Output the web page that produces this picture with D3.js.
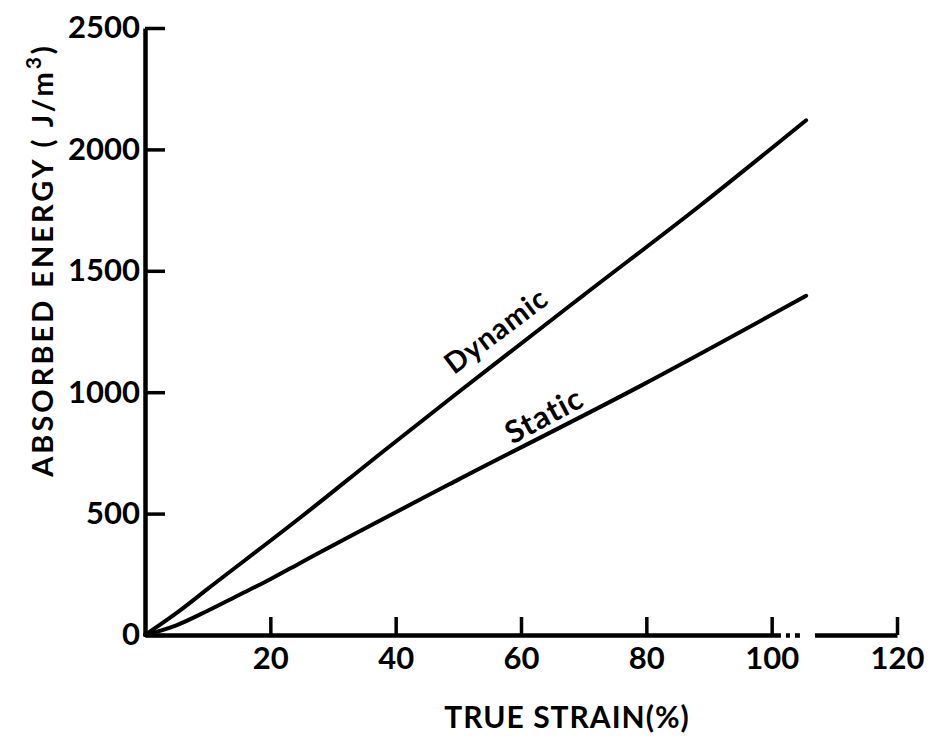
<!DOCTYPE html>
<html>
<head>
<meta charset="utf-8">
<script src="https://cdn.jsdelivr.net/npm/d3@7"></script>
<style>
	body { margin: 0; background: #fff; }
	svg { display: block; font-family: Lato, "Open Sans", sans-serif; }
</style>
</head>
<body>
<svg id="chart"></svg>
<script>
// strain (%) vs absorbed energy
const dynamicStrain = [0, 5, 10, 25, 38, 50, 70, 88.6, 105.5];
const dynamicEnergy = [0, 90, 190, 488, 756, 1000, 1400, 1769, 2120];
const staticStrain = [0, 5, 10, 15, 20, 25, 50, 79, 105.5];
const staticEnergy = [0, 40, 100, 165, 230, 300, 640, 1025, 1397];
const xTicks = [20, 40, 60, 80, 100, 120];
const yTicks = [0, 500, 1000, 1500, 2000, 2500];

let margin = { top: 28, right: 33, bottom: 105, left: 145 };
let width = 930 - margin.left - margin.right;
let height = 740 - margin.top - margin.bottom;

let svg = d3.select("#chart")
	.attr("width", 930)
	.attr("height", 740);

let scaleX = d3.scaleLinear()
	.domain([0, 120])
	.range([0, width]);

let scaleY = d3.scaleLinear()
	.domain([0, 2500])
	.range([height, 0]);

let g = svg.append("g")
	.attr("transform", "translate(" + margin.left + "," + margin.top + ")");

// axes - ticks point inward like the original drawing
let xAxis = g.append("g")
	.attr("transform", "translate(0," + height + ")")
	.call(d3.axisBottom(scaleX).tickValues(xTicks).tickFormat(d3.format("d"))
		.tickSize(-18).tickPadding(12).tickSizeOuter(0));

let yAxis = g.append("g")
	.call(d3.axisLeft(scaleY).tickValues(yTicks).tickFormat(d3.format("d"))
		.tickSize(-20).tickPadding(5).tickSizeOuter(0));

[xAxis, yAxis].forEach(a => {
	a.select(".domain").attr("stroke", "#000").attr("stroke-width", 4.5);
	a.selectAll(".tick line").attr("stroke", "#000").attr("stroke-width", 3.5);
	a.selectAll(".tick text")
		.attr("font-family", "Lato, sans-serif")
		.attr("font-size", 31)
		.attr("font-weight", "bold")
		.attr("fill", "#000");
});

// the printed x axis is broken just past 100
xAxis.select(".domain")
	.attr("stroke-dasharray", [scaleX(101.4), 5, 4, 5, 5, 15, width].join(" "));

// lines
let line = d3.line()
	.x(d => scaleX(d[0]))
	.y(d => scaleY(d[1]))
	.curve(d3.curveMonotoneX);

let series = [
	{ name: "Dynamic", pts: d3.zip(dynamicStrain, dynamicEnergy) },
	{ name: "Static", pts: d3.zip(staticStrain, staticEnergy) }
];

g.selectAll("path.series")
	.data(series)
	.join("path")
	.attr("class", "series")
	.attr("fill", "none")
	.attr("stroke", "#000")
	.attr("stroke-width", 4)
	.attr("stroke-linecap", "round")
	.attr("d", d => line(d.pts));

// line labels, rotated along the slope
function labelAt(text, sx, sy, angle, size) {
	g.append("text")
		.attr("transform", "translate(" + scaleX(sx) + "," + scaleY(sy) + ") rotate(" + angle + ")")
		.attr("text-anchor", "middle")
		.attr("font-size", size)
		.attr("font-weight", "bold")
		.attr("letter-spacing", 1)
		.text(text);
}
labelAt("Dynamic", 57, 1220, -37, 29);
labelAt("Static", 64.5, 865, -28, 31);

// axis titles
svg.append("text")
	.attr("x", 567)
	.attr("y", 728)
	.attr("text-anchor", "middle")
	.attr("font-size", 30)
	.attr("font-weight", "bold")
	.attr("letter-spacing", 1)
	.text("TRUE STRAIN(%)");

let yTitle = svg.append("text")
	.attr("transform", "translate(53,260) rotate(-90)")
	.attr("text-anchor", "middle")
	.attr("font-size", 29)
	.attr("font-weight", "bold")
	.attr("letter-spacing", 3);
yTitle.append("tspan").text("ABSORBED ENERGY ( J/m");
yTitle.append("tspan").attr("dy", -12).attr("font-size", 21).text("3");
yTitle.append("tspan").attr("dy", 12).text(")");
</script>
</body>
</html>
